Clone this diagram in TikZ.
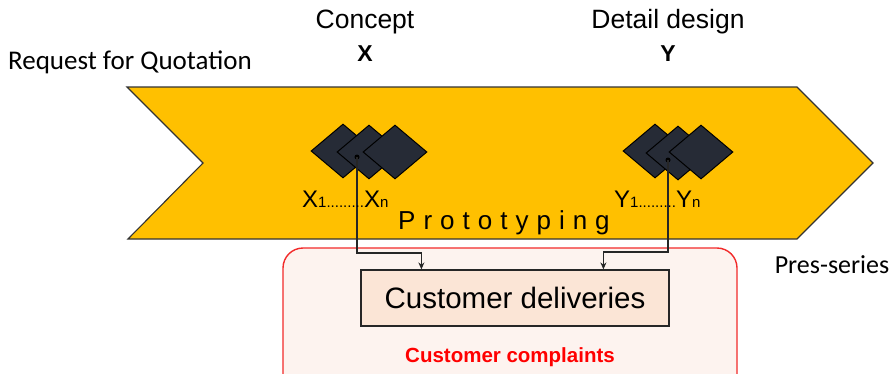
\documentclass[tikz,border=0pt]{standalone}
\usepackage{fontspec}
\setmainfont{Liberation Sans}
\newfontfamily\calib{Carlito}
\usetikzlibrary{shapes.geometric,arrows.meta,calc}
\definecolor{chev}{HTML}{FFC000}
\definecolor{dia}{HTML}{262B36}
\definecolor{redb}{HTML}{F22A2A}
\definecolor{redfill}{HTML}{FDF3EF}
\definecolor{delfill}{HTML}{FBE5D6}
\newcommand{\fsz}[1]{\fontsize{#1pt}{#1pt}\selectfont}
\begin{document}
\begin{tikzpicture}[x=1pt,y=-1pt,
  dmd/.style={diamond,draw=black,line width=1pt,fill=dia,inner sep=0pt,minimum width=64pt,minimum height=54pt,aspect=1.185},
  dotn/.style={circle,fill=black,inner sep=0pt,minimum size=5pt},
  conn/.style={line width=1.2pt,draw=black!85,-{Stealth[length=7pt,width=6pt]}},
  lbl/.style={inner sep=0pt,anchor=center}]
\clip (0,0) rectangle (893,373);
% chevron
\draw[fill=chev,draw=black!80,line width=1.1pt] (127,87) -- (797,87) -- (873,163) -- (797,239) -- (128,239) -- (203,163) -- cycle;
% red box
\draw[redb,fill=redfill,line width=1.4pt,rounded corners=20pt] (283,248) rectangle (737,400);
% diamonds
\node[dmd] (x1) at (343,151) {};
\node[dmd] (x2) at (369,152) {};
\node[dmd] (x3) at (395,152) {};
\node[dmd] (y1) at (655,151) {};
\node[dmd] (y2) at (678,153) {};
\node[dmd] (y3) at (701,152) {};
\node[dotn] (dx) at (357,157) {};
\node[dotn] (dy) at (668,160) {};
% deliveries
\node[draw=black!85,line width=1.2pt,fill=delfill,minimum width=308pt,minimum height=56pt,inner sep=0pt] (del) at (515,298) {\fsz{29.5}Customer deliveries};
\node[lbl,text=red] (cc) at (510,357) {\fsz{20.5}\bfseries Customer complaints};
% connectors
\draw[conn] (dx.center) -- (357,253) -| ([xshift=61pt]del.north west);
\draw[conn] (dy.center) -- (668,252) -| ([xshift=243pt]del.north west);
% labels
\node[lbl] (concept) at (365,22) {\fsz{26.5}Concept};
\node[lbl] (xl) at (365,54) {\fsz{23}\bfseries X};
\node[lbl] (detail) at (668,22) {\fsz{26.5}Detail design};
\node[lbl] (yl) at (668,54) {\fsz{23}\bfseries Y};
\node[lbl] (rfq) at (130,62) {\calib\fsz{27}Request for Quotation};
\node[lbl] (pres) at (832,265) {\calib\fsz{26}Pres-series};
\node[anchor=base west,inner sep=0pt] (xs) at (302,207) {\fsz{24}X{\fsz{15}1.........}X{\fsz{15}n}};
\node[anchor=base west,inner sep=0pt] (ys) at (614,207) {\fsz{24}Y{\fsz{15}1.........}Y{\fsz{15}n}};
\node[anchor=base west,inner sep=0pt] (proto) at (398,229) {\fsz{26}P\hspace{8pt}r\hspace{8pt}o\hspace{8pt}t\hspace{8pt}o\hspace{8pt}t\hspace{8pt}y\hspace{8pt}p\hspace{8pt}i\hspace{8pt}n\hspace{8pt}g};
\end{tikzpicture}
\end{document}
